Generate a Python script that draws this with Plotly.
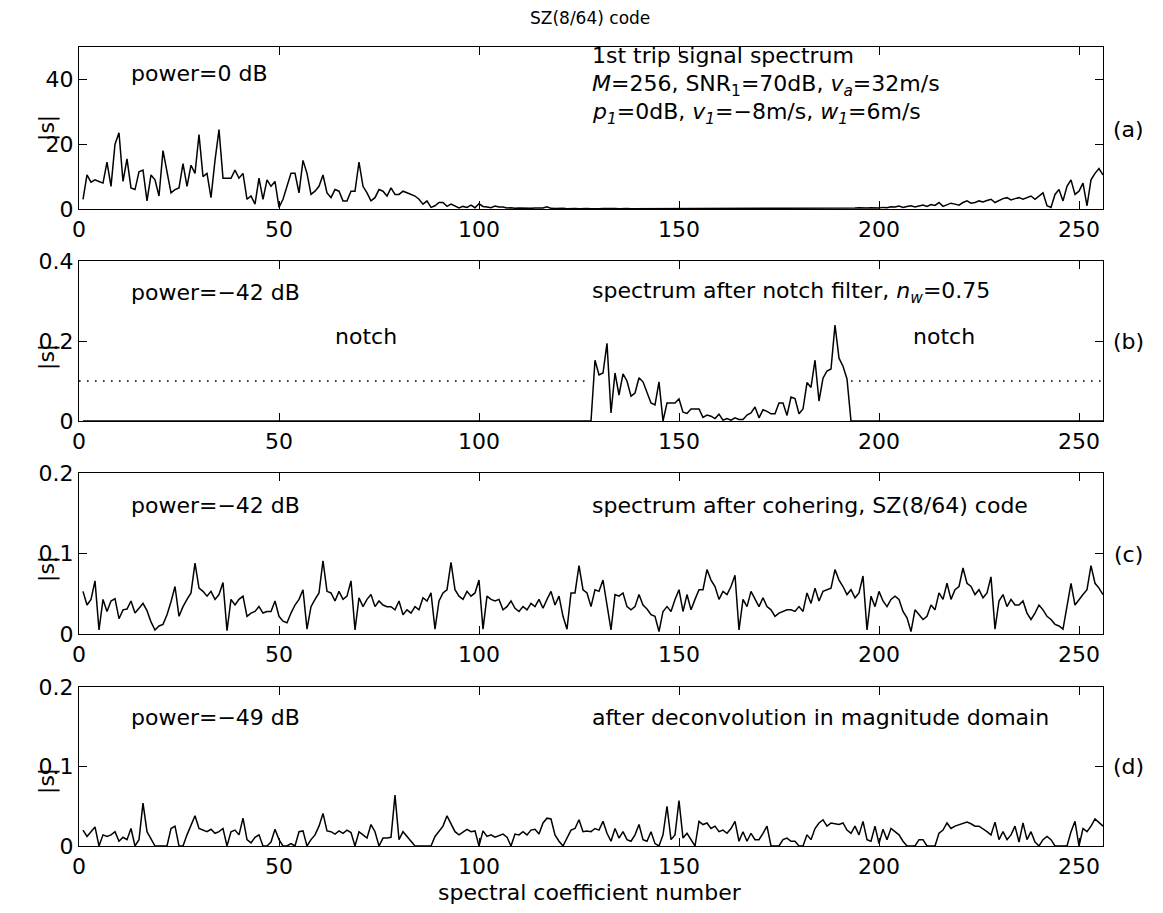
import plotly.graph_objects as go

# ---------------- data ----------------
n = list(range(1, 257))

s_a = [3.0,10.5,8.3,9.0,8.5,8.0,14.5,7.0,20.0,23.5,
 8.5,15.5,6.5,6.0,11.5,12.0,2.5,10.5,9.0,4.0,
 18.0,11.0,5.0,6.0,6.5,14.0,7.0,13.5,11.0,23.0,
 10.0,11.0,3.5,15.0,24.5,9.5,9.5,9.5,12.0,9.5,
 11.0,3.0,4.0,1.5,9.5,3.0,9.0,7.0,8.5,0.5,
 3.0,7.0,11.0,11.0,5.0,15.0,11.0,4.5,5.5,7.0,
 10.5,5.0,3.5,6.0,5.5,2.5,2.5,5.5,5.5,14.5,
 7.0,5.0,2.5,3.5,6.0,5.5,4.0,6.5,4.5,4.5,
 5.5,5.0,4.5,4.0,3.0,1.5,2.5,0.5,1.0,2.0,
 2.0,0.8,1.5,1.0,0.3,0.8,0.5,1.2,0.4,1.6,
 0.8,0.6,0.4,0.9,0.6,0.6,0.3,0.4,0.2,0.3,
 0.2,0.3,0.2,0.3,0.2,0.3,0.7,0.2,0.15,0.25,
 0.2,0.1,0.2,0.15,0.1,0.2,0.15,0.1,0.2,0.1,
 0.15,0.2,0.1,0.15,0.1,0.2,0.15,0.1,0.1,0.2,
 0.15,0.1,0.1,0.15,0.2,0.1,0.1,0.15,0.1,0.1,
 0.15,0.1,0.2,0.1,0.1,0.15,0.1,0.1,0.15,0.1,
 0.1,0.15,0.1,0.1,0.2,0.1,0.15,0.1,0.1,0.15,
 0.2,0.1,0.15,0.1,0.2,0.15,0.1,0.2,0.15,0.2,
 0.2,0.15,0.25,0.2,0.2,0.3,0.2,0.25,0.3,0.2,
 0.3,0.25,0.2,0.3,0.35,0.25,0.3,0.4,0.3,0.3,
 0.5,0.4,0.7,0.6,0.9,0.5,0.8,1.0,0.6,0.9,
 1.2,0.8,1.4,1.1,2.0,0.8,1.3,1.8,1.5,1.2,
 2.0,2.5,1.8,2.0,2.5,2.2,2.6,3.0,2.0,2.6,
 3.2,3.5,2.8,3.2,3.5,3.0,3.6,4.0,3.0,4.0,
 5.0,1.0,0.5,4.5,6.0,2.5,7.0,9.0,4.5,5.5,
 8.0,1.0,9.0,11.0,12.5,10.5]

s_b_pass = [0.152,0.115,0.12,0.194,0.02,0.12,0.065,0.118,0.10,0.062,
 0.07,0.108,0.098,0.073,0.045,0.04,0.098,0.0,0.045,0.045,
 0.045,0.055,0.022,0.019,0.03,0.03,0.03,0.009,0.015,0.012,
 0.006,0.017,0.002,0.006,0.002,0.008,0.004,0.004,0.015,0.02,
 0.035,0.008,0.028,0.024,0.018,0.018,0.045,0.045,0.014,0.06,
 0.056,0.018,0.03,0.096,0.084,0.152,0.05,0.107,0.125,0.13,
 0.24,0.157,0.137,0.105]
s_b = [0.0] * 128 + s_b_pass + [0.0] * 64

s_c = [0.053,0.036,0.043,0.066,0.005,0.043,0.028,0.041,0.044,0.019,
 0.030,0.031,0.041,0.026,0.032,0.038,0.029,0.015,0.005,0.010,
 0.012,0.024,0.040,0.059,0.022,0.034,0.043,0.051,0.088,0.057,
 0.053,0.047,0.053,0.043,0.049,0.064,0.004,0.043,0.036,0.043,
 0.047,0.022,0.026,0.028,0.034,0.026,0.028,0.028,0.041,0.022,
 0.016,0.014,0.026,0.036,0.043,0.055,0.006,0.034,0.043,0.051,
 0.091,0.053,0.051,0.041,0.053,0.043,0.047,0.066,0.005,0.045,
 0.034,0.043,0.049,0.034,0.041,0.036,0.034,0.034,0.030,0.041,
 0.024,0.030,0.026,0.034,0.030,0.045,0.041,0.051,0.006,0.041,
 0.051,0.055,0.089,0.055,0.047,0.043,0.053,0.047,0.051,0.067,
 0.006,0.047,0.043,0.041,0.043,0.030,0.034,0.041,0.032,0.028,
 0.034,0.030,0.038,0.034,0.043,0.032,0.043,0.053,0.036,0.047,
 0.022,0.006,0.051,0.051,0.085,0.055,0.051,0.034,0.055,0.053,
 0.067,0.038,0.005,0.049,0.047,0.051,0.034,0.030,0.034,0.049,
 0.036,0.031,0.024,0.022,0.003,0.028,0.034,0.028,0.043,0.055,
 0.028,0.049,0.030,0.043,0.055,0.055,0.080,0.067,0.059,0.043,
 0.053,0.049,0.059,0.073,0.005,0.043,0.034,0.053,0.043,0.034,
 0.045,0.034,0.030,0.022,0.026,0.028,0.030,0.030,0.028,0.034,
 0.028,0.051,0.038,0.057,0.041,0.053,0.055,0.057,0.080,0.067,
 0.059,0.049,0.055,0.045,0.051,0.072,0.005,0.047,0.034,0.053,
 0.041,0.034,0.043,0.047,0.043,0.028,0.020,0.003,0.030,0.024,
 0.018,0.022,0.036,0.030,0.051,0.043,0.063,0.043,0.055,0.059,
 0.082,0.063,0.059,0.049,0.055,0.045,0.051,0.071,0.006,0.041,
 0.049,0.034,0.043,0.036,0.036,0.041,0.026,0.018,0.026,0.036,
 0.030,0.022,0.018,0.012,0.010,0.006,0.036,0.063,0.036,0.043,
 0.049,0.055,0.085,0.063,0.057,0.049]

s_d = [0.020,0.012,0.018,0.024,0.000,0.014,0.012,0.014,0.018,0.006,
 0.011,0.008,0.022,0.000,0.008,0.054,0.018,0.008,0.000,0.000,
 0.000,0.000,0.022,0.025,0.000,0.000,0.014,0.025,0.038,0.022,
 0.020,0.018,0.021,0.016,0.018,0.022,0.000,0.018,0.020,0.014,
 0.035,0.008,0.004,0.011,0.014,0.000,0.000,0.005,0.021,0.008,
 0.000,0.000,0.003,0.000,0.018,0.019,0.000,0.008,0.014,0.025,
 0.041,0.019,0.018,0.015,0.019,0.016,0.020,0.017,0.000,0.018,
 0.014,0.010,0.027,0.018,0.000,0.010,0.010,0.011,0.064,0.008,
 0.018,0.012,0.006,0.000,0.000,0.000,0.000,0.000,0.012,0.018,
 0.025,0.038,0.027,0.018,0.014,0.018,0.021,0.018,0.019,0.000,
 0.019,0.012,0.014,0.011,0.013,0.015,0.011,0.000,0.015,0.014,
 0.018,0.014,0.020,0.021,0.015,0.029,0.035,0.034,0.014,0.006,
 0.000,0.011,0.020,0.022,0.033,0.018,0.019,0.018,0.022,0.020,
 0.031,0.016,0.006,0.022,0.010,0.018,0.008,0.006,0.014,0.027,
 0.008,0.006,0.018,0.003,0.000,0.014,0.050,0.008,0.014,0.057,
 0.010,0.016,0.008,0.000,0.031,0.027,0.029,0.022,0.025,0.018,
 0.020,0.016,0.022,0.031,0.006,0.018,0.006,0.016,0.008,0.008,
 0.016,0.025,0.000,0.000,0.000,0.008,0.010,0.006,0.006,0.000,
 0.000,0.014,0.008,0.022,0.029,0.033,0.025,0.029,0.028,0.027,
 0.029,0.020,0.016,0.025,0.014,0.031,0.008,0.006,0.025,0.003,
 0.021,0.008,0.022,0.018,0.014,0.006,0.000,0.000,0.000,0.008,
 0.008,0.000,0.000,0.000,0.016,0.020,0.029,0.022,0.025,0.027,
 0.029,0.030,0.028,0.025,0.025,0.022,0.018,0.014,0.030,0.008,
 0.018,0.008,0.014,0.025,0.005,0.029,0.008,0.018,0.005,0.000,
 0.008,0.012,0.008,0.000,0.000,0.000,0.000,0.018,0.031,0.000,
 0.022,0.018,0.025,0.034,0.029,0.025]

notch_level = 0.1
notch_left = [0, 128]
notch_right = [193, 256]

y_ranges = [[0, 50], [0, 0.4], [0, 0.2], [0, 0.2]]
y_ticks = [[0, 20, 40], [0, 0.2, 0.4], [0, 0.1, 0.2], [0, 0.1, 0.2]]
y_ticktext = [["0", "20", "40"], ["0", "0.2", "0.4"], ["0", "0.1", "0.2"], ["0", "0.1", "0.2"]]
x_ticks = [0, 50, 100, 150, 200, 250]

# ---------------- layout geometry (pixels) ----------------
W, H = 1163, 913
L, R, T, B = 79, 1103, 47, 846
panels_px = [(47, 209), (261, 421), (473, 634), (687, 846)]
ylabel_px = [128, 357, 569, 781]

def px(x):
    return (x - L) / (R - L)

def py(y):
    return (B - y) / (B - T)

FONT = "DejaVu Sans, Verdana, sans-serif"
FS = 22

fig = go.Figure()
series = [s_a, s_b, s_c, s_d]
for i, s in enumerate(series):
    xa = "x" if i == 0 else f"x{i+1}"
    ya = "y" if i == 0 else f"y{i+1}"
    fig.add_trace(go.Scatter(x=n, y=s, mode="lines", xaxis=xa, yaxis=ya,
                             line=dict(color="black", width=1.5), showlegend=False,
                             hoverinfo="skip"))

for seg in (notch_left, notch_right):
    fig.add_trace(go.Scatter(x=seg, y=[notch_level, notch_level], mode="lines",
                             xaxis="x2", yaxis="y2",
                             line=dict(color="black", width=1.6, dash="1.6px,6.4px"),
                             showlegend=False, hoverinfo="skip"))

layout = dict(width=W, height=H, margin=dict(l=L, r=W - R, t=T, b=H - B),
              paper_bgcolor="white", plot_bgcolor="white",
              font=dict(family=FONT, size=FS, color="black"))

for i, (top, bot) in enumerate(panels_px):
    k = "" if i == 0 else str(i + 1)
    layout["xaxis" + k] = dict(domain=[0, 1], range=[0, 256], anchor="y" + k,
                               tickvals=x_ticks, ticks="inside", ticklen=8,
                               tickwidth=1.3, tickcolor="black",
                               showline=True, linecolor="black", linewidth=1.3,
                               mirror="ticks", showgrid=False, zeroline=False,
                               tickfont=dict(family=FONT, size=FS))
    layout["yaxis" + k] = dict(domain=[py(bot), py(top)], range=y_ranges[i],
                               anchor="x" + k, tickvals=y_ticks[i],
                               ticktext=y_ticktext[i], ticks="inside", ticklen=8,
                               tickwidth=1.3, tickcolor="black",
                               showline=True, linecolor="black", linewidth=1.3,
                               mirror="ticks", showgrid=False, zeroline=False,
                               tickfont=dict(family=FONT, size=FS))
fig.update_layout(**layout)

ann = []
def add(text, x, y, xanchor="left", yanchor="middle", size=FS, angle=0):
    ann.append(dict(text=text, x=px(x), y=py(y), xref="paper", yref="paper",
                    xanchor=xanchor, yanchor=yanchor, showarrow=False, textangle=angle,
                    font=dict(family=FONT, size=size, color="black")))

add("SZ(8/64) code", 590, 18, xanchor="center", size=17)
add("spectral coefficient number", 590, 892, xanchor="center")
for yy in ylabel_px:
    add("|s|", 47, yy, xanchor="center", angle=-90)
add("power=0 dB", 129, 74)
add("1st trip signal spectrum", 590, 56)
add("<i>M</i>=256, SNR<sub>1</sub>=70dB, <i>v</i><sub><i>a</i></sub>=32m/s", 590, 85)
add("<i>p</i><sub><i>1</i></sub>=0dB, <i>v</i><sub><i>1</i></sub>=\u22128m/s, <i>w</i><sub><i>1</i></sub>=6m/s", 590, 113)
add("power=\u221242 dB", 129, 292)
add("spectrum after notch filter, <i>n</i><sub><i>w</i></sub>=0.75", 590, 292)
add("notch", 366, 336, xanchor="center")
add("notch", 944, 336, xanchor="center")
add("power=\u221242 dB", 129, 505)
add("spectrum after cohering, SZ(8/64) code", 590, 505)
add("power=\u221249 dB", 129, 717)
add("after deconvolution in magnitude domain", 590, 717)
for lab, yy in (("(a)", 129), ("(b)", 341), ("(c)", 554), ("(d)", 766)):
    add(lab, 1128, yy, xanchor="center")
fig.update_layout(annotations=ann)

fig.write_html("out.html")
